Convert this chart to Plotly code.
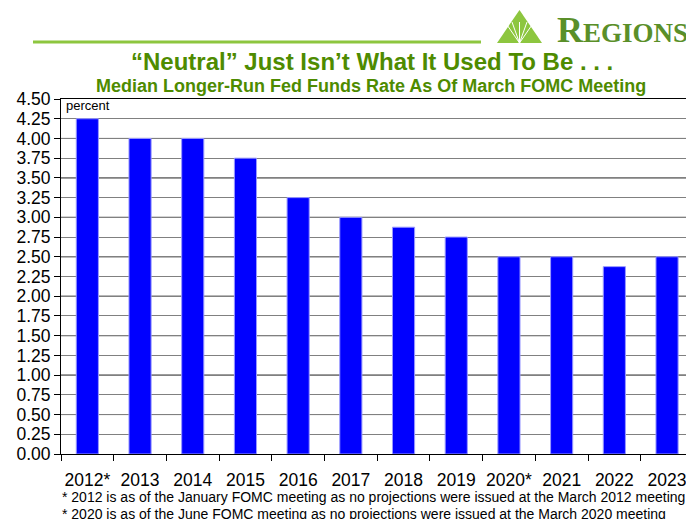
import plotly.graph_objects as go

years = ["2012*", "2013", "2014", "2015", "2016", "2017", "2018", "2019", "2020*", "2021", "2022", "2023"]
rates = [4.25, 4.00, 4.00, 3.75, 3.25, 3.00, 2.875, 2.75, 2.50, 2.50, 2.375, 2.50]
major_grid = [0.5, 1.0, 1.5, 2.0, 2.5, 3.0, 3.5, 4.0]

title = "\u201cNeutral\u201d Just Isn\u2019t What It Used To Be . . ."
subtitle = "Median Longer-Run Fed Funds Rate As Of March FOMC Meeting"
foot1 = "* 2012 is as of the January FOMC meeting as no projections were issued at the March 2012 meeting"
foot2 = "* 2020 is as of the June FOMC meeting as no projections were issued at the March 2020 meeting"

W, H = 686, 519
L, R, T, B = 61, 0, 99, 65
PW, PH = W - L - R, H - T - B

def px(x):
    return (x - L) / PW

def py(y):
    return (H - B - y) / PH

fig = go.Figure()
fig.add_trace(go.Bar(
    x=years, y=rates, width=0.42,
    marker=dict(color="#0000FF", line=dict(color="#9999FF", width=1)),
))

shapes = []
for g in major_grid:
    shapes.append(dict(type="line", xref="paper", yref="y", x0=0, x1=1, y0=g, y1=g,
                       line=dict(color="#000000", width=1), layer="below"))
# green rule
shapes.append(dict(type="line", xref="paper", yref="paper", x0=px(33), x1=px(481),
                   y0=py(42), y1=py(42), line=dict(color="#8DC63F", width=3)))
# logo triangle
shapes.append(dict(type="path", xref="paper", yref="paper",
                   path=f"M {px(497)} {py(43)} L {px(519.5)} {py(10)} L {px(542)} {py(43)} Z",
                   fillcolor="#8DC63F", line=dict(width=0)))
for xe in [505, 512, 519.5, 527, 534]:
    shapes.append(dict(type="line", xref="paper", yref="paper",
                       x0=px(519.5), y0=py(43), x1=px(xe), y1=py(22),
                       line=dict(color="white", width=1)))

annotations = [
    dict(text="<b>" + title + "</b>", x=px(372), y=py(62), xref="paper", yref="paper", showarrow=False,
         font=dict(family="Liberation Sans, Arial", size=24, color="#4E8B00"), xanchor="center", yanchor="middle"),
    dict(text="<b>" + subtitle + "</b>", x=px(371), y=py(86), xref="paper", yref="paper", showarrow=False,
         font=dict(family="Liberation Sans, Arial", size=18, color="#4E8B00"), xanchor="center", yanchor="middle"),
    dict(text="percent", x=px(64), y=py(106), xref="paper", yref="paper", showarrow=False,
         font=dict(family="Liberation Sans, Arial", size=13, color="black"), xanchor="left", yanchor="middle"),
    dict(text=foot1, x=px(60), y=py(497), xref="paper", yref="paper", showarrow=False,
         font=dict(family="Liberation Sans, Arial", size=14, color="black"), xanchor="left", yanchor="middle"),
    dict(text=foot2, x=px(60), y=py(514), xref="paper", yref="paper", showarrow=False,
         font=dict(family="Liberation Sans, Arial", size=14, color="black"), xanchor="left", yanchor="middle"),
    dict(text="<b><span style='font-size:36px'>R</span>EGIONS</b>", x=px(555), y=py(52), xref="paper", yref="paper",
         showarrow=False, font=dict(family="Liberation Serif, Times New Roman", size=27, color="#5A8F29"),
         xanchor="left", yanchor="bottom"),
]

fig.update_layout(
    width=W, height=H, margin=dict(l=L, r=R, t=T, b=B, autoexpand=False),
    paper_bgcolor="white", plot_bgcolor="white", showlegend=False,
    bargap=0.58, shapes=shapes, annotations=annotations,
    font=dict(family="Liberation Sans, Arial", color="black"),
)
fig.update_xaxes(
    type="category", range=[-0.5, PW / 52.7 - 0.5], tickson="boundaries", tickangle=0,
    ticks="outside", ticklen=6, tickcolor="black", showline=True, linecolor="black",
    linewidth=1, mirror=True, showgrid=False, tickfont=dict(size=17.5), ticklabelstandoff=10,
)
fig.update_yaxes(
    range=[0, 4.5], dtick=0.25, tickformat=".2f", ticks="outside", ticklen=6, tickcolor="black",
    showline=True, linecolor="black", linewidth=1, showgrid=True, gridcolor="#808080", gridwidth=1,
    tickfont=dict(size=17.5), zeroline=False,
)
fig.write_html("out.html")
